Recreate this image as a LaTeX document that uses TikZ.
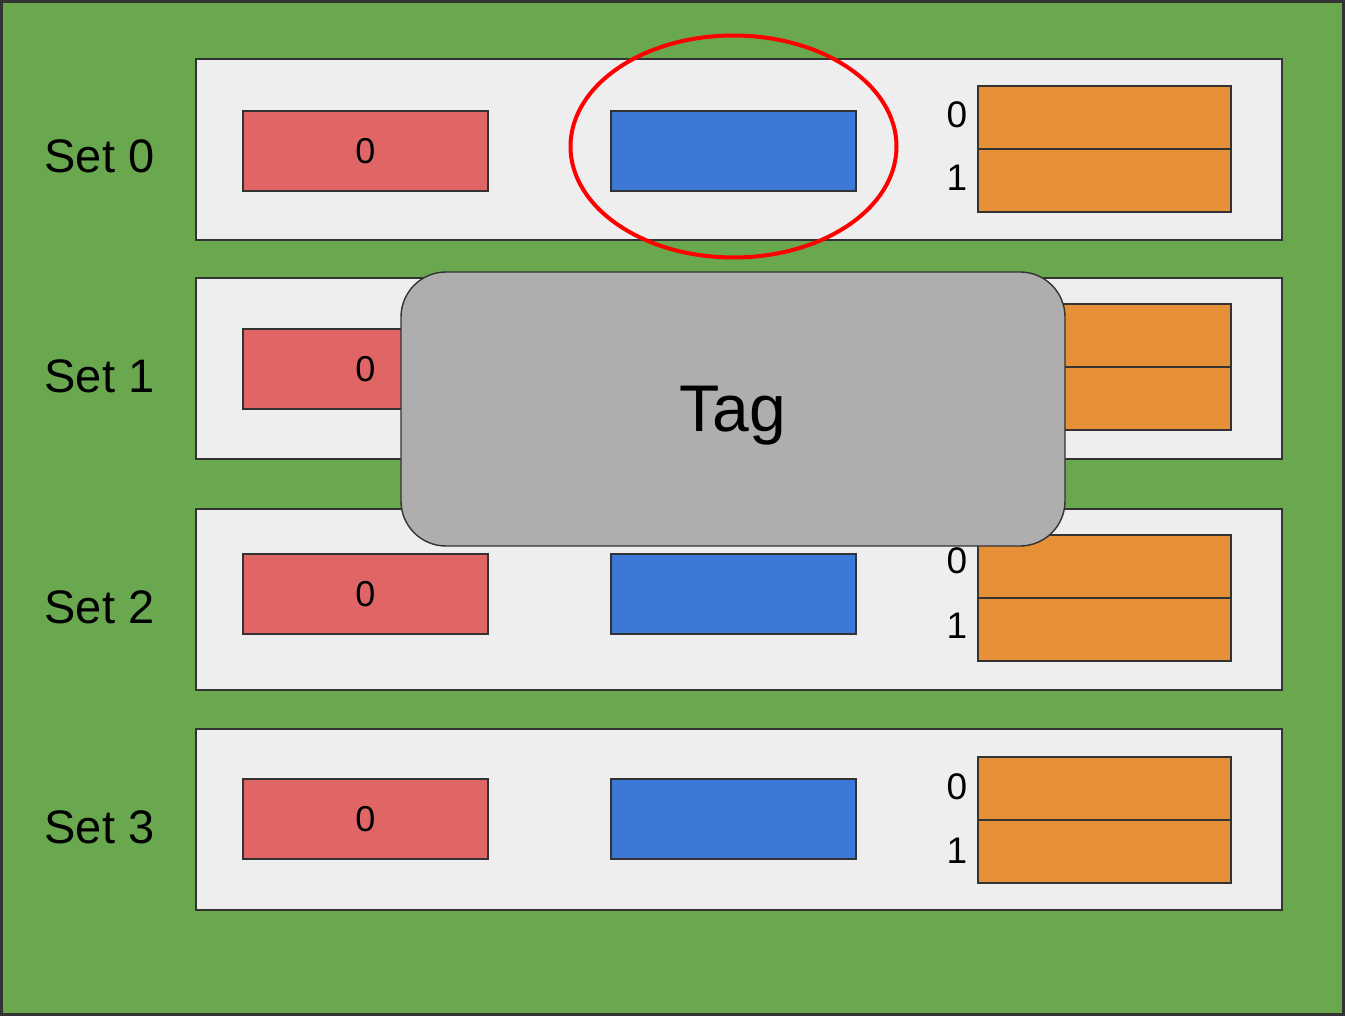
\documentclass[tikz,border=0pt]{standalone}
\usepackage{fontspec}
\setmainfont{Liberation Sans}
\definecolor{bggreen}{HTML}{6AA84F}
\definecolor{setgray}{HTML}{EEEEEE}
\definecolor{redbox}{HTML}{E06666}
\definecolor{bluebox}{HTML}{3C78D8}
\definecolor{orangebox}{HTML}{E69138}
\definecolor{taggray}{HTML}{AEAEAE}
\definecolor{edgegray}{HTML}{333333}
\definecolor{ringred}{HTML}{FF0000}
\tikzset{
  boxbase/.style={draw=edgegray, line width=1.6pt, inner sep=0pt, outer sep=0pt, anchor=north west},
  setbox/.style={boxbase, fill=setgray, minimum width=1086pt, minimum height=181pt},
  redb/.style={boxbase, fill=redbox, minimum width=245pt, minimum height=80pt, font=\fontsize{36}{40}\selectfont},
  blueb/.style={boxbase, fill=bluebox, minimum width=245pt, minimum height=80pt},
  orangeb/.style={boxbase, fill=orangebox, minimum width=253pt, minimum height=63pt},
  setlabel/.style={anchor=base, inner sep=0pt, font=\fontsize{47}{54}\selectfont},
  idxlabel/.style={anchor=base, inner sep=0pt, font=\fontsize{37}{42}\selectfont},
  tagbox/.style={draw=edgegray, line width=1.4pt, fill=taggray, rounded corners=45pt, inner sep=0pt,
    outer sep=0pt, anchor=north west, minimum width=664pt, minimum height=274pt},
}
\begin{document}
\begin{tikzpicture}[x=1pt,y=-1pt]
\useasboundingbox (0,0) rectangle (1345,1016);
\node[draw=edgegray, fill=bggreen, line width=2.6pt, inner sep=0pt, outer sep=0pt, anchor=north west,
  minimum width=1342.4pt, minimum height=1013.4pt] (bg) at (1.3,1.3) {};

% set rows
\node[setbox] (s0) at (196,59) {};
\node[setbox] (s1) at (196,278) {};
\node[setbox] (s2) at (196,509) {};
\node[setbox] (s3) at (196,729) {};

% set labels
\node[setlabel] (l0) at (99.5,173) {Set 0};
\node[setlabel] (l1) at (99.5,393) {Set 1};
\node[setlabel] (l2) at (99.5,623) {Set 2};
\node[setlabel] (l3) at (99.5,843) {Set 3};

% red boxes
\node[redb] (r0) at (243,111) {0};
\node[redb] (r1) at (243,329) {0};
\node[redb] (r2) at (243,554) {0};
\node[redb] (r3) at (243,779) {0};

% blue boxes
\node[blueb] (b0) at (611,111) {};
\node[blueb] (b1) at (611,329) {};
\node[blueb] (b2) at (611,554) {};
\node[blueb] (b3) at (611,779) {};

% orange boxes
\node[orangeb] (o0a) at (978,86) {};
\node[orangeb] (o0b) at (978,149) {};
\node[orangeb] (o1a) at (978,304) {};
\node[orangeb] (o1b) at (978,367) {};
\node[orangeb] (o2a) at (978,535) {};
\node[orangeb] (o2b) at (978,598) {};
\node[orangeb] (o3a) at (978,757) {};
\node[orangeb] (o3b) at (978,820) {};

% index labels
\node[idxlabel] (i0a) at (957,128) {0};
\node[idxlabel] (i0b) at (957,191) {1};
\node[idxlabel] (i2a) at (957,573) {0};
\node[idxlabel] (i2b) at (957,638) {1};
\node[idxlabel] (i3a) at (957,799) {0};
\node[idxlabel] (i3b) at (957,863) {1};

% highlight ring
\draw[ringred, line width=4pt] (733.5,146.5) ellipse [x radius=163, y radius=111];

% tag overlay
\node[tagbox] (tag) at (401,272) {};
\node[anchor=center, inner sep=0pt, text depth=0pt, font=\fontsize{66}{72}\selectfont] (tagtext) at (tag.center) {Tag};
\end{tikzpicture}
\end{document}
